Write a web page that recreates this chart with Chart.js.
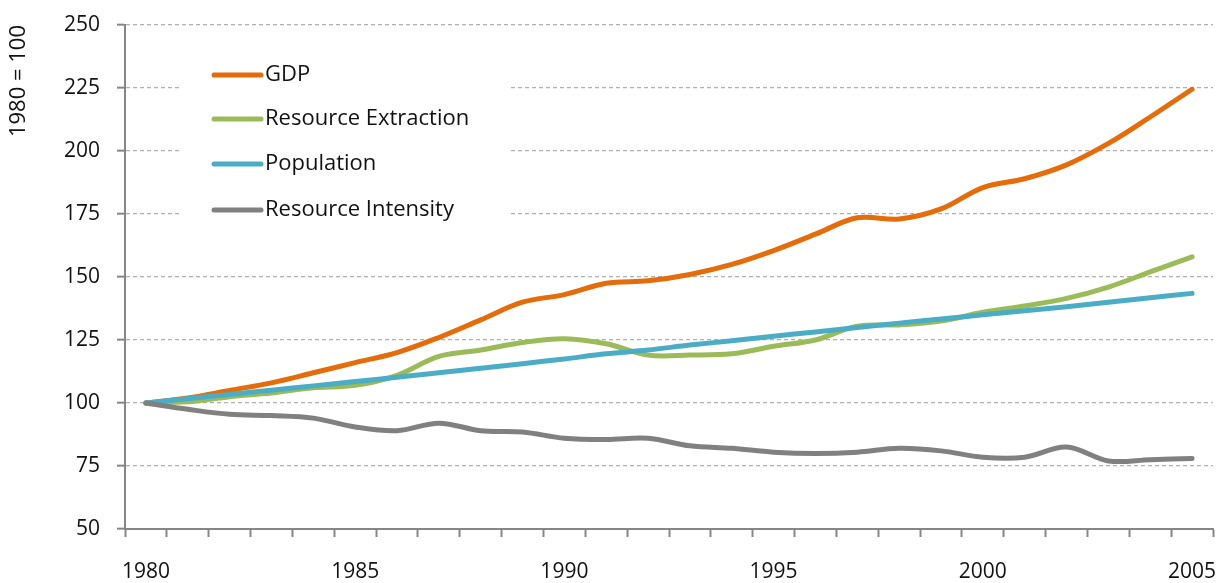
<!DOCTYPE html>
<html>
<head>
<meta charset="utf-8">
<script src="https://cdn.jsdelivr.net/npm/chart.js@4"></script>
<style>
  html, body { margin: 0; padding: 0; background: #fff; }
  #wrap { width: 1221px; height: 583px; }
</style>
</head>
<body>
<div id="wrap"><canvas id="chart" width="1221" height="583"></canvas></div>
<script>
const years = [1980, 1981, 1982, 1983, 1984, 1985, 1986, 1987, 1988, 1989, 1990, 1991, 1992,
  1993, 1994, 1995, 1996, 1997, 1998, 1999, 2000, 2001, 2002, 2003, 2004, 2005];

const gdp = [100, 102, 105, 108, 112, 116, 120, 126, 133, 140, 143, 147.5, 148.5,
  151, 155, 160.5, 167, 173.5, 173, 177, 185.5, 189, 194.5, 203, 213.5, 224.5];

const resourceExtraction = [100, 100.5, 102.5, 104, 106, 107, 111, 118.5, 121, 124, 125.5, 123.5, 119,
  119, 119.5, 122.5, 125, 130.5, 131, 132.5, 136, 138.5, 141.5, 146, 152, 158];

const population = [100, 101.7, 103.4, 105.1, 106.8, 108.5, 110.2, 112, 113.8, 115.6, 117.5, 119.5, 121,
  123, 124.7, 126.5, 128.2, 130, 131.7, 133.3, 135, 136.6, 138.2, 140, 141.8, 143.5];

const resourceIntensity = [100, 97.5, 95.5, 95, 94, 90.5, 89, 92, 89, 88.5, 86, 85.5, 86,
  83, 82, 80.5, 80, 80.5, 82, 81, 78.5, 78.5, 82.5, 77, 77.5, 78];

const yTicks = [50, 75, 100, 125, 150, 175, 200, 225, 250];

const FONT = "'Open Sans', Lato, sans-serif";

function makeSeries(label, data, color, order) {
  return {
    label: label,
    data: data,
    borderColor: color,
    backgroundColor: color,
    borderWidth: 5,
    borderCapStyle: 'round',
    borderJoinStyle: 'round',
    pointRadius: 0,
    tension: 0.35,
    fill: false,
    order: order
  };
}

// legend drawn inside the plot, top left, on a white box
const insideLegend = {
  id: 'insideLegend',
  afterDraw(chart) {
    const ctx = chart.ctx;
    ctx.save();
    ctx.fillStyle = '#fff';
    ctx.fillRect(179, 50, 331, 185);
    const rows = [75, 119, 164, 210];
    chart.data.datasets.forEach((ds, i) => {
      const y = rows[i];
      ctx.strokeStyle = ds.borderColor;
      ctx.lineWidth = 5;
      ctx.lineCap = 'round';
      ctx.beginPath();
      ctx.moveTo(214, y);
      ctx.lineTo(261, y);
      ctx.stroke();
      ctx.fillStyle = '#111';
      ctx.font = '22px ' + FONT;
      ctx.textBaseline = 'middle';
      ctx.textAlign = 'left';
      ctx.fillText(ds.label, 265, y);
    });
    ctx.restore();
  }
};

new Chart(document.getElementById('chart').getContext('2d'), {
  type: 'line',
  data: {
    labels: years,
    datasets: [
      makeSeries('GDP', gdp, '#E46C0A', 4),
      makeSeries('Resource Extraction', resourceExtraction, '#9BBB59', 3),
      makeSeries('Population', population, '#4BACC6', 2),
      makeSeries('Resource Intensity', resourceIntensity, '#808080', 1)
    ]
  },
  options: {
    responsive: false,
    animation: false,
    events: [],
    layout: { padding: { top: 25, right: 8, left: 0, bottom: 0 } },
    plugins: {
      legend: { display: false },
      tooltip: { enabled: false }
    },
    scales: {
      x: {
        type: 'category',
        offset: true,
        grid: {
          offset: true,
          drawOnChartArea: false,
          drawTicks: true,
          tickLength: 8,
          tickColor: '#868686',
          tickWidth: 2
        },
        border: { color: '#868686', width: 2 },
        ticks: {
          autoSkip: false,
          maxRotation: 0,
          padding: 22,
          color: '#111',
          font: { family: FONT, size: 21 },
          callback: function (value, index) {
            const y = years[index];
            return y % 5 === 0 ? String(y) : '';
          }
        },
        afterFit(scale) {
          scale.height = 54;
          scale.paddingLeft = 0;
          scale.paddingRight = 0;
        }
      },
      y: {
        min: 50,
        max: 250,
        afterBuildTicks(scale) {
          scale.ticks = yTicks.map(v => ({ value: v }));
        },
        grid: {
          color: '#b0b0b0',
          lineWidth: 1.3,
          drawTicks: true,
          tickLength: 8,
          tickColor: '#868686',
          tickWidth: 2,
          tickBorderDash: []
        },
        border: { color: '#868686', width: 2, dash: [4, 3] },
        ticks: {
          padding: 17,
          color: '#111',
          font: { family: FONT, size: 21 }
        },
        title: {
          display: true,
          text: '1980 = 100',
          align: 'end',
          color: '#111',
          font: { family: FONT, size: 22 },
          padding: { top: 6, bottom: 0 }
        },
        afterFit(scale) {
          scale.width = 125;
          scale.paddingTop = 0;
          scale.paddingBottom = 0;
        }
      }
    }
  },
  plugins: [insideLegend]
});
</script>
</body>
</html>
